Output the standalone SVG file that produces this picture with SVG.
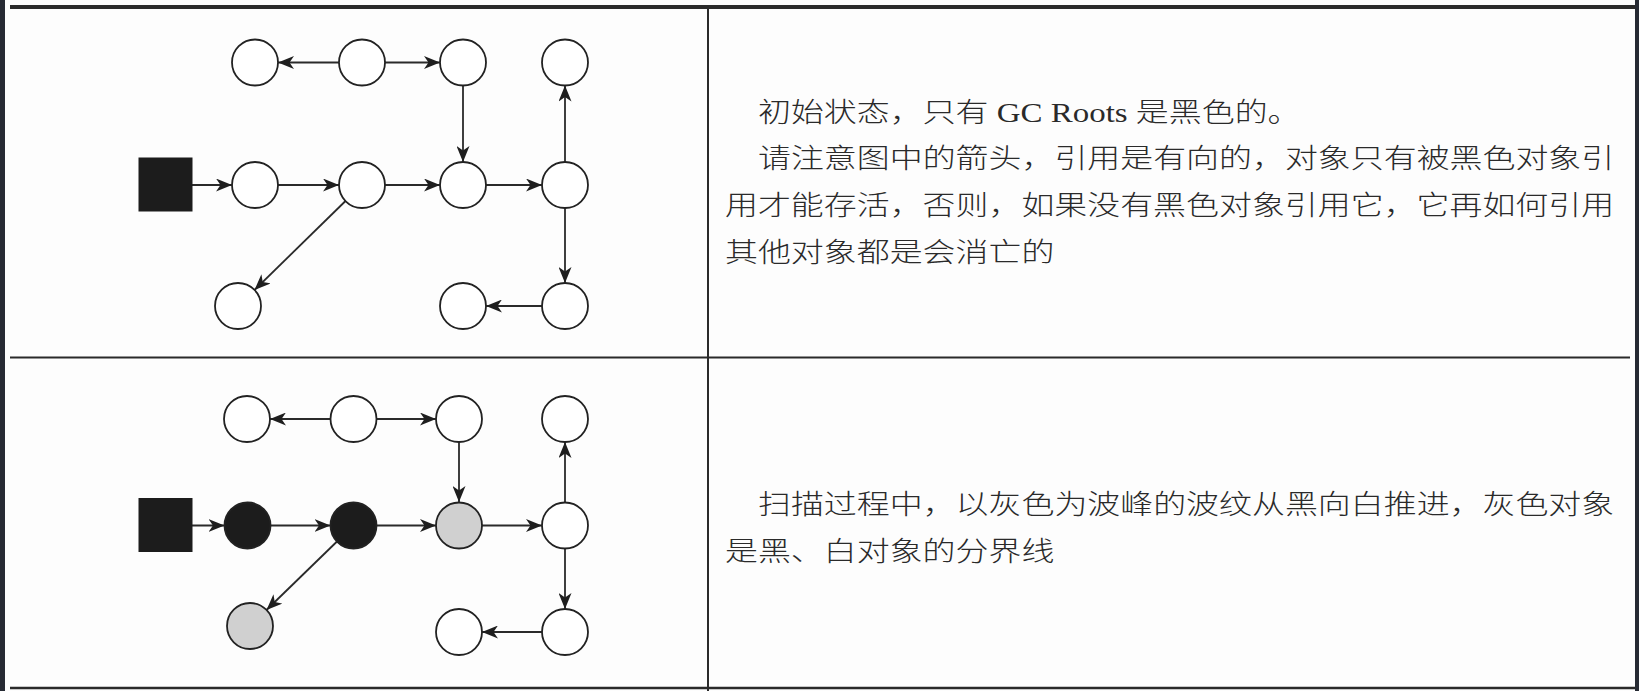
<svg xmlns="http://www.w3.org/2000/svg" width="1639" height="691" viewBox="0 0 1639 691">
<style>
.n{stroke:#222;stroke-width:1.8;fill:#fff}
.blk{fill:#1c1c1c}
.gry{fill:#d0d0d0}
.root{fill:#1c1c1c;stroke:#1c1c1c;stroke-width:1}
.e{stroke:#2a2a2a;stroke-width:1.8;fill:none;marker-end:url(#ah)}
.rule{stroke:#2a2a2a;fill:none}
.t{font-family:"Liberation Serif","Noto Sans CJK SC",serif;font-size:27px;fill:#2a2a2a;font-weight:300}
</style>
<defs>
<marker id="ah" markerUnits="userSpaceOnUse" viewBox="0 0 16 13" markerWidth="16" markerHeight="13" refX="16" refY="6.5" orient="auto">
<path d="M0,0 L16,6.5 L0,13 L4.5,6.5 Z" fill="#1e1e1e"/>
</marker>
</defs>
<rect x="0" y="0" width="1639" height="691" fill="#fdfdfd"/>
<rect x="0" y="0" width="5" height="691" fill="#262a33"/>
<rect x="1635" y="0" width="4" height="691" fill="#262a33"/>
<g id="table">
<line class="rule" x1="10" y1="7" x2="1635" y2="7" stroke-width="4"/>
<line class="rule" x1="10" y1="357.5" x2="1630" y2="357.5" stroke-width="2"/>
<line class="rule" x1="10" y1="688" x2="1635" y2="688" stroke-width="2.5"/>
<line class="rule" x1="708" y1="9" x2="708" y2="691" stroke-width="2"/>
</g>
<g id="connectors">
<line class="e" x1="339" y1="62.5" x2="278" y2="62.5"/>
<line class="e" x1="385" y1="62.5" x2="440" y2="62.5"/>
<line class="e" x1="463" y1="85.5" x2="463" y2="162"/>
<line class="e" x1="565" y1="162" x2="565" y2="85.5"/>
<line class="e" x1="192" y1="185" x2="232" y2="185"/>
<line class="e" x1="278" y1="185" x2="339" y2="185"/>
<line class="e" x1="385" y1="185" x2="440" y2="185"/>
<line class="e" x1="486" y1="185" x2="542" y2="185"/>
<line class="e" x1="345.5" y1="201" x2="254.5" y2="290"/>
<line class="e" x1="565" y1="208" x2="565" y2="283"/>
<line class="e" x1="542" y1="306" x2="486" y2="306"/>
<line class="e" x1="330.5" y1="419" x2="270" y2="419"/>
<line class="e" x1="376.5" y1="419" x2="436" y2="419"/>
<line class="e" x1="459" y1="442" x2="459" y2="502"/>
<line class="e" x1="565" y1="502" x2="565" y2="442"/>
<line class="e" x1="192" y1="525.5" x2="224.5" y2="525.5"/>
<line class="e" x1="270.5" y1="525.5" x2="330.5" y2="525.5"/>
<line class="e" x1="376.5" y1="525.5" x2="436" y2="525.5"/>
<line class="e" x1="482" y1="525.5" x2="542" y2="525.5"/>
<line class="e" x1="337" y1="541.5" x2="266.5" y2="610"/>
<line class="e" x1="565" y1="548" x2="565" y2="609"/>
<line class="e" x1="542" y1="632" x2="482" y2="632"/>
</g>
<g id="p1-root"><rect class="root" x="139" y="158" width="53" height="53"/></g>
<g id="p1-a1"><circle class="n" cx="255" cy="62.5" r="23"/></g>
<g id="p1-a2"><circle class="n" cx="362" cy="62.5" r="23"/></g>
<g id="p1-a3"><circle class="n" cx="463" cy="62.5" r="23"/></g>
<g id="p1-a4"><circle class="n" cx="565" cy="62.5" r="23"/></g>
<g id="p1-b1"><circle class="n" cx="255" cy="185" r="23"/></g>
<g id="p1-b2"><circle class="n" cx="362" cy="185" r="23"/></g>
<g id="p1-b3"><circle class="n" cx="463" cy="185" r="23"/></g>
<g id="p1-b4"><circle class="n" cx="565" cy="185" r="23"/></g>
<g id="p1-c1"><circle class="n" cx="238" cy="306" r="23"/></g>
<g id="p1-c3"><circle class="n" cx="463" cy="306" r="23"/></g>
<g id="p1-c4"><circle class="n" cx="565" cy="306" r="23"/></g>

<g id="p2-root"><rect class="root" x="139" y="498.5" width="53" height="53"/></g>
<g id="p2-a1"><circle class="n" cx="247" cy="419" r="23"/></g>
<g id="p2-a2"><circle class="n" cx="353.5" cy="419" r="23"/></g>
<g id="p2-a3"><circle class="n" cx="459" cy="419" r="23"/></g>
<g id="p2-a4"><circle class="n" cx="565" cy="419" r="23"/></g>
<g id="p2-b1"><circle class="n blk" cx="247.5" cy="525.5" r="23"/></g>
<g id="p2-b2"><circle class="n blk" cx="353.5" cy="525.5" r="23"/></g>
<g id="p2-b3"><circle class="n gry" cx="459" cy="525.5" r="23"/></g>
<g id="p2-b4"><circle class="n" cx="565" cy="525.5" r="23"/></g>
<g id="p2-c1"><circle class="n gry" cx="250" cy="626" r="23"/></g>
<g id="p2-c3"><circle class="n" cx="459" cy="632" r="23"/></g>
<g id="p2-c4"><circle class="n" cx="565" cy="632" r="23"/></g>

<g id="text1">
<text class="t" transform="matrix(1.22 0 0 1 758 122)">初始状态，只有 GC Roots 是黑色的。</text>
<text class="t" transform="matrix(1.22 0 0 1 758 168)">请注意图中的箭头，引用是有向的，对象只有被黑色对象引</text>
<text class="t" transform="matrix(1.22 0 0 1 725 215)">用才能存活，否则，如果没有黑色对象引用它，它再如何引用</text>
<text class="t" transform="matrix(1.22 0 0 1 725 262)">其他对象都是会消亡的</text>
</g>
<g id="text2">
<text class="t" transform="matrix(1.22 0 0 1 758 514)">扫描过程中，以灰色为波峰的波纹从黑向白推进，灰色对象</text>
<text class="t" transform="matrix(1.22 0 0 1 725 561)">是黑、白对象的分界线</text>
</g>
</svg>
